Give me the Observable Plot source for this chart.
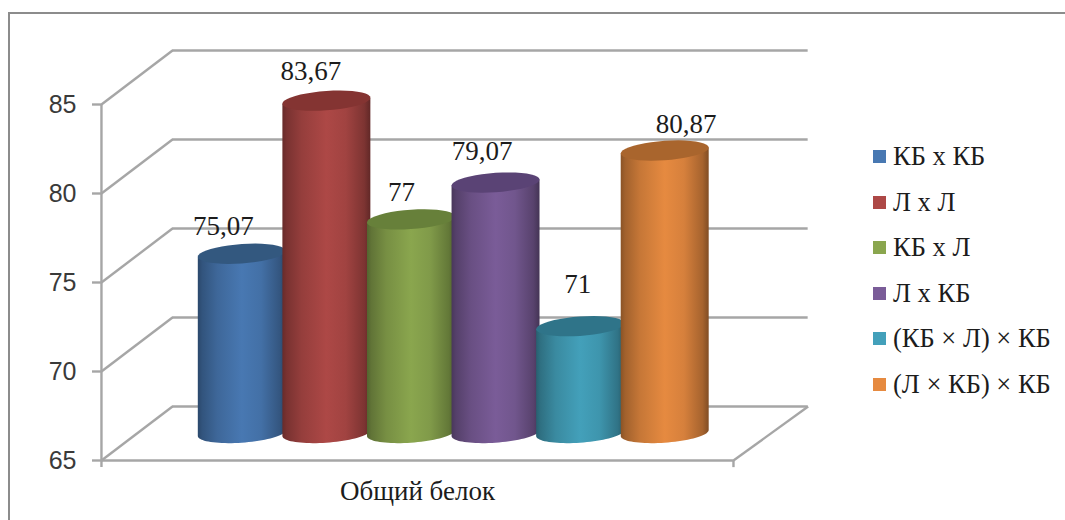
<!DOCTYPE html>
<html lang="ru">
<head>
<meta charset="utf-8">
<script src="https://cdn.jsdelivr.net/npm/d3@7"></script>
<script src="https://cdn.jsdelivr.net/npm/@observablehq/plot@0.6"></script>
<style>
  html, body { margin: 0; padding: 0; background: #fff; }
  #chart { position: relative; width: 1065px; height: 520px; overflow: hidden; }
  #chart svg { display: block; }
  #chart::before {
    content: ""; position: absolute; left: 8px; top: 12px; right: -4px; bottom: -4px;
    border: 2px solid #8c8c8c; pointer-events: none;
  }
  #legend {
    position: absolute; left: 873px; top: 134px;
    font: 26.5px "Liberation Serif", serif; color: #1c1c1c;
  }
  #legend div { display: flex; align-items: center; height: 45.5px; white-space: nowrap; }
  #legend i { display: block; width: 13px; height: 13px; margin-right: 7px; }
</style>
</head>
<body>
<div id="chart"><div id="legend"></div></div>
<script>
// Total protein by cross
const crosses = ["КБ х КБ", "Л х Л", "КБ х Л", "Л х КБ", "(КБ × Л) × КБ", "(Л × КБ) × КБ"];
const protein = [75.07, 83.67, 77, 79.07, 71, 80.87];
const labels = ["75,07", "83,67", "77", "79,07", "71", "80,87"];
const colors = ["#4878b2", "#ad4846", "#8aa64e", "#7a5c98", "#43a0ba", "#e68a40"];
const lidColors = ["#33587f", "#843432", "#67803a", "#5a4375", "#2f7489", "#a9652d"];
const yTicks = [65, 70, 75, 80, 85];
const category = "Общий белок";

// Hand-placed data label offsets, in pixels from the top of each cylinder
const labelDx = [-19, -16, -10, -14, -3, 21];
const labelDy = [-28, -30, -28, -32, -42, -27];

// Pseudo-3D box: half its depth in value units, its corners in slot units
const base = 65;
const depth = 1.517;
const depthPx = 27;
const frontLeft = -1.165, frontRight = 6.307, backLeft = -0.325, backRight = 7.19;

const rows = crosses.map((name, i) => ({name, value: protein[i], slot: i, color: colors[i], lid: lidColors[i], label: labels[i]}));

// Side edges shared by the two ellipses of a cylinder: a sheared ellipse keeps vertical tangents
function ellipsePoints(cx, cy, rx, ry, shear, from, to) {
  return d3.range(0, 41).map((k) => {
    const t = from + ((to - from) * k) / 40;
    return [cx + rx * Math.cos(t), cy - shear * Math.cos(t) + ry * Math.sin(t)];
  });
}

// Draws each rect of the mark as a shaded cylinder, in order, so later ones overlap earlier ones
function cylinders(index, scales) {
  const g = d3.create("svg:g");
  const defs = g.append("defs");
  const stops = [[0, 0.6], [0.05, 0.7], [0.22, 0.86], [0.5, 1], [0.72, 0.93], [0.93, 0.72], [1, 0.56]];
  for (const i of index) {
    const d = rows[i];
    const id = `cyl-${i}`;
    const mix = d3.interpolateRgb("#000", d.color);
    const grad = defs.append("linearGradient").attr("id", id).attr("x1", 0).attr("x2", 1).attr("y1", 0).attr("y2", 0);
    for (const [o, t] of stops) grad.append("stop").attr("offset", o).attr("stop-color", mix(t));
    const cx = scales.x(d.slot + 0.5);
    const rx = (scales.x(1) - scales.x(0)) * 0.52;
    const yTop = scales.y(d.value);
    const yBase = scales.y(base);
    const ry = 9.7, shear = 3;
    const side = [
      [cx - rx, yTop + shear],
      ...ellipsePoints(cx, yBase, rx, ry, shear, Math.PI, 0),
      [cx + rx, yTop - shear]
    ];
    g.append("path").attr("d", d3.line()(side) + "Z").attr("fill", `url(#${id})`);
    g.append("path")
      .attr("d", d3.line()(ellipsePoints(cx, yTop, rx, ry, shear, 0, 2 * Math.PI)) + "Z")
      .attr("fill", d.lid);
  }
  return g.node();
}

const wall = {stroke: "#a6a6a6", strokeWidth: 2.4};

const plot = Plot.plot({
  width: 1065,
  height: 520,
  marginLeft: 101,
  marginRight: 258,
  marginTop: 50,
  marginBottom: 60,
  x: {domain: [0, 6], range: [199.5, 707], axis: null},
  y: {domain: [base, 85], range: [433, 77], axis: null},
  style: {background: "transparent"},
  marks: [
    // Gridlines on the back wall and the side wall
    Plot.ruleY(yTicks, {y: (d) => d + depth, x1: backLeft, x2: backRight, ...wall}),
    Plot.link(yTicks, {x1: frontLeft, x2: backLeft, y1: (d) => d - depth, y2: (d) => d + depth, ...wall}),
    // Front edges of the floor
    Plot.ruleY([base - depth], {x1: frontLeft, x2: frontRight, ...wall}),
    Plot.link([base], {x1: frontRight, x2: backRight, y1: (d) => d - depth, y2: (d) => d + depth, ...wall}),
    Plot.ruleX([frontRight], {y1: base - depth, y2: base - depth - 0.4, ...wall}),
    Plot.ruleX([frontLeft], {y1: base - depth - 0.4, y2: 85 - depth, ...wall}),
    Plot.axisY({
      ticks: yTicks,
      anchor: "left",
      dy: depthPx,
      tickSize: 9,
      tickPadding: 16,
      stroke: "#a6a6a6",
      strokeWidth: 2.4,
      fontSize: 25,
      fontFamily: "Liberation Sans, sans-serif",
      color: "#3a3a3a",
      label: null
    }),
    Plot.rectY(rows, {x1: "slot", x2: (d) => d.slot + 1, y1: base, y2: "value", fill: "color", render: cylinders}),
    // Data labels
    ...rows.map((d, i) =>
      Plot.text([d], {
        x: (r) => r.slot + 0.5,
        y: "value",
        text: "label",
        dx: labelDx[i],
        dy: labelDy[i],
        fontSize: 27,
        fontFamily: "Liberation Serif, serif",
        fill: "#1c1c1c"
      })
    ),
    Plot.text([category], {
      x: (frontLeft + frontRight) / 2,
      y: base - depth,
      dy: 31,
      text: (d) => d,
      fontSize: 27,
      fontFamily: "Liberation Serif, serif",
      fill: "#1c1c1c"
    })
  ]
});

const chart = document.getElementById("chart");
chart.prepend(plot);

// Legend at the right of the chart
const legend = d3.select("#legend");
rows.forEach((d) => {
  const row = legend.append("div");
  row.append("i").style("background", d.color);
  row.append("span").text(d.name);
});
</script>
</body>
</html>
